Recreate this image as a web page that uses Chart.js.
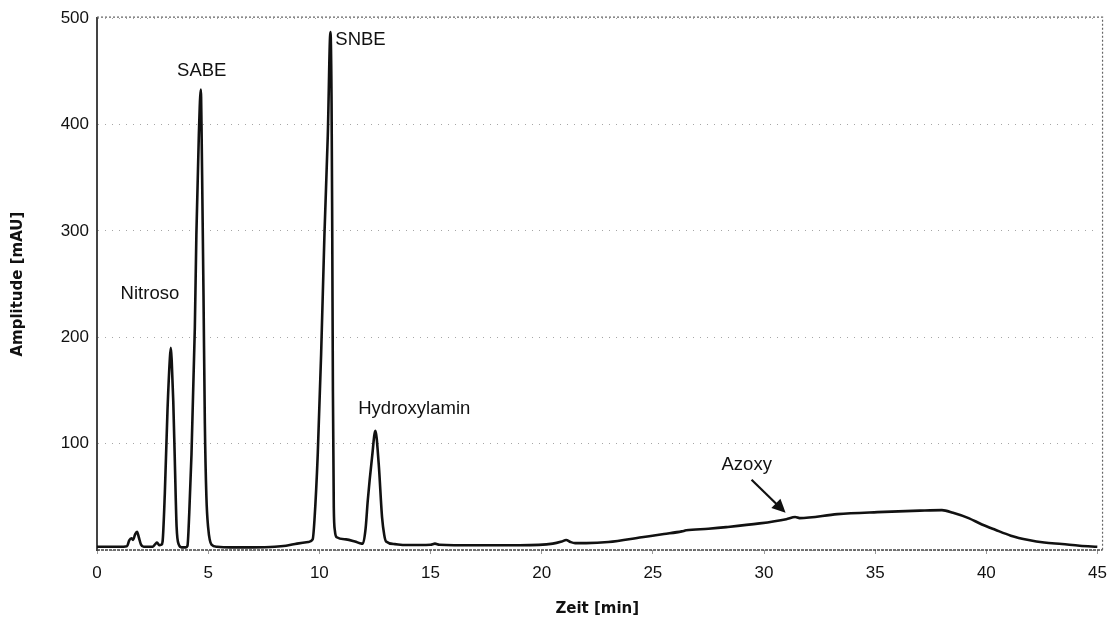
<!DOCTYPE html>
<html>
<head>
<meta charset="utf-8">
<script src="https://cdn.jsdelivr.net/npm/chart.js@4.4.1/dist/chart.umd.min.js"></script>
<style>
  html, body { margin: 0; padding: 0; background: #fff; }
</style>
</head>
<body>
<canvas id="myChart" width="1116" height="618"></canvas>
<script>
// retention time [min] and detector signal [mAU]
const zeit = [
  0, 1.0, 1.35, 1.45, 1.55, 1.62, 1.72, 1.8, 1.88, 1.98, 2.1, 2.5, 2.62, 2.7, 2.8, 2.9,
  2.95, 3.05, 3.17, 3.28, 3.32, 3.36, 3.43, 3.5, 3.58, 3.68, 3.8, 4.0,
  4.07, 4.15, 4.25, 4.4, 4.47, 4.58, 4.67, 4.7, 4.74, 4.79, 4.85, 4.92, 5.0, 5.15, 5.4,
  6, 7, 8, 8.5, 9.0, 9.5, 9.7,
  9.78, 9.93, 10.08, 10.23, 10.38, 10.5, 10.55, 10.58, 10.61, 10.65, 10.7, 10.78, 11.2, 11.6, 11.9,
  11.96, 12.08, 12.18, 12.37, 12.52, 12.67, 12.82, 12.92, 13.0, 13.4, 13.9,
  15, 15.2, 15.4, 17, 19, 20.5, 20.9, 21.1, 21.3, 21.5, 22, 23, 24.5, 25.5, 26.3, 26.5,
  27.5, 28.3, 29.8, 31.0, 31.4, 31.6, 33.3, 35.1, 37, 38.0, 38.5, 39.2, 39.8, 40.4,
  41.1, 41.9, 42.6, 43.4, 44.2, 45
];
const amplitude = [
  3, 3, 3.5, 9, 11, 9.5, 15, 17, 12, 5, 3, 3, 5.5, 7, 4.5, 5,
  8, 53, 131, 181, 190, 178, 140, 84, 22, 5, 2.5, 2.5,
  4, 35, 90, 209, 297, 390, 433, 400, 330, 240, 120, 50, 21, 5, 3,
  2.5, 2.5, 3, 4, 6, 7.5, 10,
  28, 91, 184, 297, 390, 487, 420, 300, 150, 40, 18, 12, 10, 8, 6,
  6, 20, 47, 87, 112, 81, 31, 14, 8, 5.5, 4.7,
  5, 6, 5, 4.5, 4.5, 6, 8, 9.4, 7.5, 6.5, 6.5, 7.5, 12, 15, 17.5, 18.5,
  20, 21.5, 25, 29, 31, 30, 33.7, 35.6, 37, 37.5, 35, 30, 24, 19,
  13.5, 9.4, 7, 5.6, 4, 3
];

const xTicks = [0, 5, 10, 15, 20, 25, 30, 35, 40, 45];
const yTicks = [100, 200, 300, 400, 500];

// peak names and where their labels sit (in data units)
const peakNames = ["Nitroso", "SABE", "SNBE", "Hydroxylamin", "Azoxy"];
const peakLabelZeit = [2.38, 4.71, 11.85, 14.27, 29.22];
const peakLabelAmp = [241, 450, 480, 133, 80];

// arrow pointing at the Azoxy shoulder
const arrowFrom = [29.44, 66];
const arrowTo = [30.97, 35];

const FONT = "'Liberation Sans', Arial, Helvetica, sans-serif";
const TITLE_FONT = "'DejaVu Sans', 'Liberation Sans', sans-serif";

const peakLabels = {
  id: "peakLabels",
  afterDatasetsDraw(chart) {
    const { ctx, scales: { x, y } } = chart;
    ctx.save();
    ctx.fillStyle = "#111";
    ctx.font = "18.5px " + FONT;
    ctx.textAlign = "center";
    ctx.textBaseline = "middle";
    peakNames.forEach((name, i) => {
      ctx.fillText(name, x.getPixelForValue(peakLabelZeit[i]), y.getPixelForValue(peakLabelAmp[i]));
    });

    const x0 = x.getPixelForValue(arrowFrom[0]);
    const y0 = y.getPixelForValue(arrowFrom[1]);
    const x1 = x.getPixelForValue(arrowTo[0]);
    const y1 = y.getPixelForValue(arrowTo[1]);
    const ang = Math.atan2(y1 - y0, x1 - x0);
    const head = 15;
    ctx.strokeStyle = "#111";
    ctx.lineWidth = 2.2;
    ctx.beginPath();
    ctx.moveTo(x0, y0);
    ctx.lineTo(x1 - Math.cos(ang) * head * 0.8, y1 - Math.sin(ang) * head * 0.8);
    ctx.stroke();
    ctx.beginPath();
    ctx.moveTo(x1, y1);
    ctx.lineTo(x1 - head * Math.cos(ang - 0.45), y1 - head * Math.sin(ang - 0.45));
    ctx.lineTo(x1 - head * Math.cos(ang + 0.45), y1 - head * Math.sin(ang + 0.45));
    ctx.closePath();
    ctx.fill();
    ctx.restore();
  }
};

// dotted top, right and bottom edges of the plot frame
const frame = {
  id: "frame",
  beforeDatasetsDraw(chart) {
    const { ctx, chartArea: a } = chart;
    ctx.save();
    ctx.strokeStyle = "#666";
    ctx.lineWidth = 1.2;
    ctx.setLineDash([2, 2]);
    ctx.beginPath();
    ctx.moveTo(a.left, a.top - 1);
    ctx.lineTo(a.right + 5, a.top - 1);
    ctx.lineTo(a.right + 5, a.bottom);
    ctx.stroke();
    ctx.strokeStyle = "#444";
    ctx.lineWidth = 1.5;
    ctx.setLineDash([3, 1]);
    ctx.beginPath();
    ctx.moveTo(a.left, a.bottom);
    ctx.lineTo(a.right + 5, a.bottom);
    ctx.stroke();
    ctx.restore();
  }
};

const points = zeit.map((t, i) => ({ x: t, y: amplitude[i] }));

new Chart(document.getElementById("myChart").getContext("2d"), {
  type: "line",
  data: {
    datasets: [{
      data: points,
      borderColor: "#111",
      borderWidth: 2.6,
      pointRadius: 0,
      fill: false,
      cubicInterpolationMode: "monotone"
    }]
  },
  options: {
    responsive: false,
    animation: false,
    layout: { padding: { top: 15, right: 16, left: 0, bottom: 0 } },
    plugins: { legend: { display: false }, tooltip: { enabled: false } },
    scales: {
      x: {
        type: "linear",
        min: 0,
        max: 45,
        afterFit(scale) { scale.height = 68; },
        afterBuildTicks(scale) { scale.ticks = xTicks.map(v => ({ value: v })); },
        grid: { drawOnChartArea: false, tickLength: 4, color: "#999" },
        border: { display: false },
        ticks: { color: "#111", font: { family: FONT, size: 17 }, padding: 9, maxRotation: 0 },
        title: {
          display: true,
          text: "Zeit [min]",
          color: "#111",
          font: { family: TITLE_FONT, size: 15, weight: "bold" },
          padding: { top: 0, bottom: 0 }
        }
      },
      y: {
        min: 0,
        max: 500,
        afterFit(scale) { scale.width = 97; },
        afterBuildTicks(scale) { scale.ticks = [0].concat(yTicks).map(v => ({ value: v })); },
        // faint, sparse dotted grid lines
        grid: { drawTicks: false, color: "rgba(0,0,0,0.35)", lineWidth: 1 },
        border: { color: "#444", width: 2, dash: [1, 6] },
        ticks: {
          color: "#111",
          font: { family: FONT, size: 17 },
          padding: 8,
          callback: v => (v === 0 ? "" : v)
        },
        title: {
          display: true,
          text: "Amplitude [mAU]",
          color: "#111",
          font: { family: TITLE_FONT, size: 15, weight: "bold" },
          padding: { top: 9, bottom: 0 }
        }
      }
    }
  },
  plugins: [frame, peakLabels]
});
</script>
</body>
</html>
